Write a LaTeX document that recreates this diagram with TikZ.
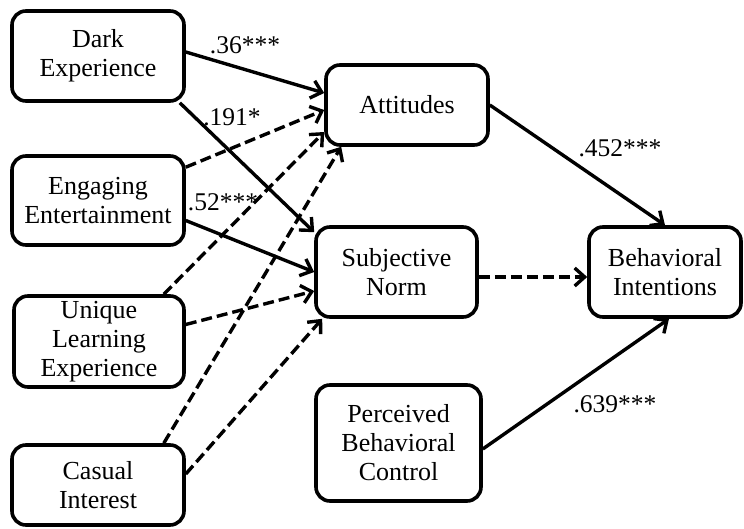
\documentclass[tikz,border=0pt]{standalone}
\usepackage{fontspec}
\setmainfont{Liberation Serif}
\usetikzlibrary{arrows.meta}
\tikzset{
  box/.style={draw=black, line width=3.6pt, rounded corners=14pt, fill=white,
    align=center, inner sep=0pt, font=\fontsize{26}{29}\selectfont},
  conn/.style={line width=3.4pt, -{Straight Barb[length=10pt,width=18pt]}},
  dconn/.style={conn, dash pattern=on 11pt off 5pt},
  coef/.style={font=\fontsize{25.5}{29}\selectfont, inner sep=0pt}
}
\begin{document}
\begin{tikzpicture}[x=1pt,y=-1pt]
\useasboundingbox (0,0) rectangle (744,529);
% nodes
\node[box, minimum width=172pt, minimum height=90pt] (DE) at (98,56) {Dark\\Experience};
\node[box, minimum width=172pt, minimum height=89pt] (EE) at (98,200.5) {Engaging\\Entertainment};
\node[box, minimum width=170pt, minimum height=91pt] (ULE) at (99,341.5) {Unique\\Learning\\Experience};
\node[box, minimum width=172pt, minimum height=80pt] (CI) at (98,485) {Casual\\Interest};
\node[box, minimum width=162pt, minimum height=80pt] (ATT) at (407,105) {Attitudes};
\node[box, minimum width=161pt, minimum height=90pt] (SN) at (396.5,272) {Subjective\\Norm};
\node[box, minimum width=165pt, minimum height=116pt] (PBC) at (398.5,443) {Perceived\\Behavioral\\Control};
\node[box, minimum width=152pt, minimum height=90pt] (BI) at (665,272) {Behavioral\\Intentions};
% connectors
\draw[conn] ([yshift=4pt]DE.east) -- ([yshift=12pt]ATT.west);
\draw[conn] ([xshift=-6pt]DE.south east) -- ([yshift=-7pt]SN.north west);
\draw[dconn] ([yshift=-13pt]EE.north east) -- ([yshift=-5pt]ATT.west);
\draw[conn] ([yshift=-20pt]EE.east) -- (SN.west);
\draw[dconn] ([xshift=-22pt]ULE.north east) -- ([yshift=-27pt]ATT.west);
\draw[dconn] ([xshift=-22pt]CI.north east) -- ([xshift=17pt]ATT.south west);
\draw[dconn] ([yshift=17pt]ULE.east) -- ([yshift=-19pt]SN.west);
\draw[dconn] ([yshift=11pt]CI.east) -- ([xshift=8pt]SN.south west);
\draw[conn] (ATT.east) -- (BI.north);
\draw[dconn] ([yshift=-5pt]SN.east) -- ([yshift=-5pt]BI.west);
\draw[conn] ([yshift=-6pt]PBC.east) -- ([xshift=4pt]BI.south);
% labels
\node[coef] (l1) at (245,45) {.36***};
\node[coef] (l2) at (232,117) {.191*};
\node[coef] (l3) at (223,202) {.52***};
\node[coef] (l4) at (620,148) {.452***};
\node[coef] (l5) at (615,404) {.639***};
\end{tikzpicture}
\end{document}
